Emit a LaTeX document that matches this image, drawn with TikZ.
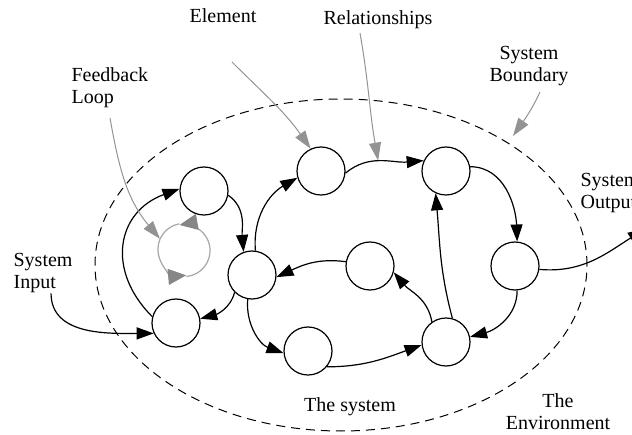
\documentclass[tikz,border=0pt]{standalone}
\usepackage{fontspec}
\setmainfont{Liberation Serif}
\usetikzlibrary{arrows.meta,shapes.geometric}

\tikzset{
  elem/.style={circle,draw,minimum size=24pt,inner sep=0pt},
  lbl/.style={inner sep=0pt,font=\fontsize{10}{11}\selectfont},
  note/.style={draw=gray!85,line width=0.5pt,-{Triangle[length=9pt,width=6pt]}},
  loopline/.style={draw=gray!70,line width=0.6pt,-{Triangle[length=9pt,width=8pt,color=gray!95]}}
}

\begin{document}
\begin{tikzpicture}[->,>={Triangle[length=8.5pt,width=6pt]},x=0.5pt,y=0.5pt,line width=0.6pt]
  \useasboundingbox (0,0) rectangle (632,434);

  \node[ellipse,draw,line width=0.5pt,dash pattern=on 4.5pt off 3pt,minimum width=246pt,minimum height=166pt] (bound) at (341,169) {};

  \node[elem] (A) at (204,243) {};
  \node[elem] (B) at (252,159) {};
  \node[elem] (C) at (176,111) {};
  \node[elem] (D) at (321,263) {};
  \node[elem] (E) at (446,263) {};
  \node[elem] (F) at (370,168) {};
  \node[elem] (G) at (515,168) {};
  \node[elem] (H) at (446,92) {};
  \node[elem] (I) at (308,83) {};
  \node[circle,minimum size=26pt,inner sep=0pt] (loop) at (184,184) {};

  \node[lbl] (element) at (223,418) {Element};
  \node[lbl] (relations) at (378,414) {Relationships};
  \node[lbl,align=center] (boundary) at (529,368) {System\\Boundary};
  \node[lbl,align=left,anchor=west] (feedback) at (71,346) {Feedback\\Loop};
  \node[lbl,align=left,anchor=west] (input) at (13,161) {System\\Input};
  \node[lbl,align=left,anchor=west] (output) at (580,241) {System\\Output};
  \node[lbl] (inside) at (350,27) {The system};
  \node[lbl,align=center] (outside) at (558,22) {The\\Environment};

  \coordinate (sysout) at (645,205);
  \coordinate (elemtail) at (232,372);
  \coordinate (reltail) at (360,401);
  \coordinate (boundtail) at (540,342);
  \coordinate (boundtip) at (513,298);
  \coordinate (feedtail) at (110,316);

  \path (C.165) edge[out=135,in=200,looseness=1.3] (A.175)
        (A.-10) edge[out=-35,in=95] (B.110)
        (B.-135) edge[out=-105,in=15] (C.10)
        (B.82) edge[out=95,in=210] (D.196)
        (D.-5) edge[out=40,in=185] node[coordinate,pos=0.45] (relpt) {} (E.155)
        (E.10) edge[out=0,in=92] (G.85)
        (G.-85) edge[out=-90,in=15] (H.12)
        (H.75) edge[out=105,in=-85] (E.-115)
        (H.125) edge[out=100,in=-50] (F.-15)
        (F.170) edge[out=172,in=25] (B.-5)
        (B.-100) edge[out=-95,in=160] (I.185)
        (I.-40) edge[out=0,in=200] (H.187)
        ([xshift=4pt]input.south) edge[out=-90,in=180] (C.205)
        (G.-8) edge[out=-5,in=212] (sysout);

  \draw[note] (elemtail) to[out=-45,in=125] (D.115);
  \draw[note] (reltail) to[out=-80,in=100] (relpt);
  \draw[note] (boundtail) to[out=-115,in=55] (boundtip);
  \draw[note] (feedtail) to[out=-80,in=130] (loop.155);

  \draw[loopline] (loop.-85) arc[start angle=-85,end angle=100,radius=13pt];
  \draw[loopline] (loop.100) arc[start angle=100,end angle=275,radius=13pt];
\end{tikzpicture}
\end{document}
